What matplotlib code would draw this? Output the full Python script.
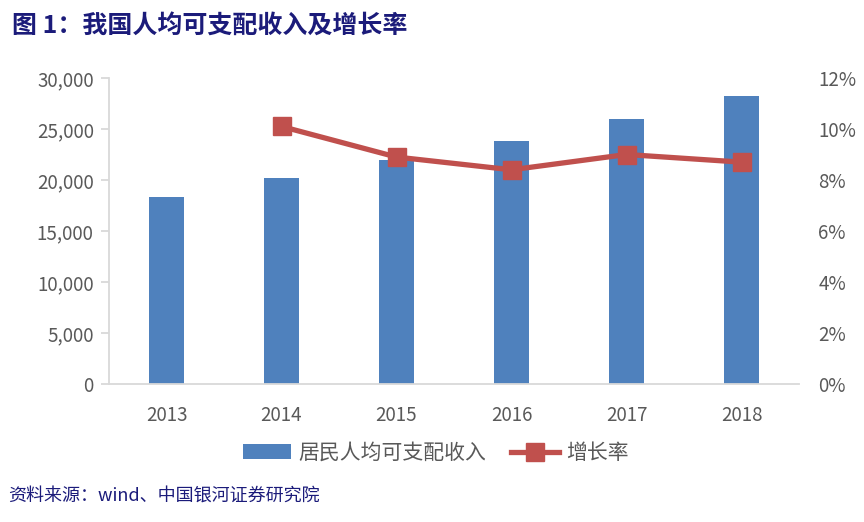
import matplotlib
matplotlib.use("Agg")
import matplotlib.pyplot as plt
from matplotlib.ticker import FuncFormatter, MultipleLocator
from matplotlib.lines import Line2D
from matplotlib.patches import Patch

plt.rcParams['font.family'] = ['Noto Sans CJK SC', 'DejaVu Sans']

years = ["2013", "2014", "2015", "2016", "2017", "2018"]
income = [18311, 20167, 21966, 23821, 25974, 28228]
growth_years = ["2014", "2015", "2016", "2017", "2018"]
growth = [10.1, 8.9, 8.4, 9.0, 8.7]

bar_color = "#4F81BD"
line_color = "#C0504D"
tick_color = "#595959"
navy = "#1B1B7A"

fig = plt.figure(figsize=(8.64, 5.22), dpi=100)
ax = fig.add_axes([109/864, 1-384/522, 690/864, 306/522])
x = list(range(len(years)))
ax.bar(x, income, width=0.31, color=bar_color, zorder=2)
ax.set_xlim(-0.5, len(years)-0.5)
ax.set_ylim(0, 30000)
ax.yaxis.set_major_locator(MultipleLocator(5000))
ax.yaxis.set_major_formatter(FuncFormatter(lambda v, p: f"{int(v):,}"))
ax.set_xticks(x)
ax.set_xticklabels(years)
for s in ["top", "right"]:
    ax.spines[s].set_visible(False)
for s in ["left", "bottom"]:
    ax.spines[s].set_color("#D9D9D9")
    ax.spines[s].set_linewidth(1.3)
ax.tick_params(axis='y', colors="#D9D9D9", labelcolor=tick_color, labelsize=13.5,
               length=6, width=1.3, pad=5)
ax.tick_params(axis='x', length=0, labelcolor=tick_color, labelsize=13.5, pad=15)

ax2 = ax.twinx()
gx = [years.index(y) for y in growth_years]
ax2.plot(gx, growth, color=line_color, lw=3.8, marker='s', markersize=13,
         markerfacecolor=line_color, markeredgecolor=line_color, zorder=3)
ax2.set_ylim(0, 12)
ax2.yaxis.set_major_locator(MultipleLocator(2))
ax2.yaxis.set_major_formatter(FuncFormatter(lambda v, p: f"{int(v)}%"))
for s in ["top", "right", "left", "bottom"]:
    ax2.spines[s].set_visible(False)
ax2.tick_params(axis='y', length=0, labelcolor=tick_color, labelsize=13.5, pad=14)

handles = [Patch(facecolor=bar_color, edgecolor='none'),
           Line2D([0], [0], color=line_color, lw=3.8, marker='s', markersize=13)]
fig.legend(handles, ["居民人均可支配收入", "增长率"], loc='center',
           bbox_to_anchor=(436/864, 1-453/522), ncol=2, frameon=False,
           fontsize=15, labelcolor=tick_color, handlelength=2.3,
           columnspacing=1.2, handletextpad=0.35)

fig.text(12/864, 1-26/522, "图 1：我国人均可支配收入及增长率", fontsize=18,
         fontweight='bold', color=navy, va='center', ha='left')
fig.text(8/864, 1-497/522, "资料来源：wind、中国银河证券研究院", fontsize=13,
         color=navy, va='center', ha='left', style='italic')

fig.savefig("out.png", dpi=100)
